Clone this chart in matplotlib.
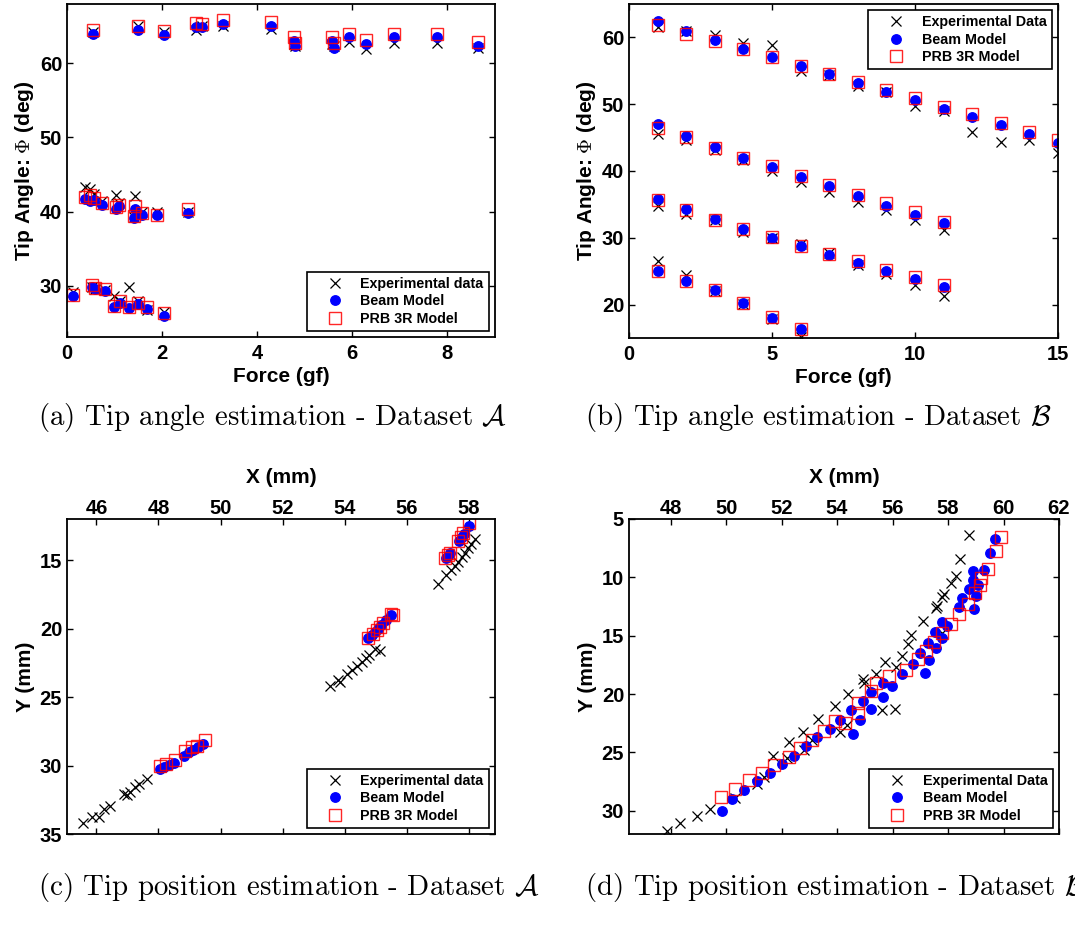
import matplotlib
matplotlib.use("Agg")
import matplotlib.pyplot as plt

plt.rcParams["font.family"] = ["Liberation Sans", "DejaVu Sans"]
plt.rcParams["font.weight"] = "bold"
plt.rcParams["mathtext.fontset"] = "cm"

# ---- (a) tip angle, dataset A ----
force_a = [0.54, 1.49, 2.05, 2.71, 2.84, 3.29, 4.29, 4.77, 4.80, 5.57, 5.62, 5.92, 6.29, 6.88, 7.77, 8.64,
           0.38, 0.48, 0.56, 0.73, 1.03, 1.10, 1.43, 1.40, 1.57, 1.89, 2.55,
           0.12, 0.52, 0.59, 0.80, 0.99, 1.12, 1.31, 1.50, 1.69, 2.03]
exp_a = [64.2, 65.0, 64.2, 64.5, 65.1, 65.0, 64.6, 62.6, 62.4, 62.6, 62.3, 62.9, 61.9, 62.7, 62.8, 62.0,
         43.3, 43.0, 42.4, 41.5, 42.2, 41.2, 42.1, 39.3, 39.9, 40.0, 40.0,
         29.2, 29.8, 29.6, 29.4, 28.6, 28.0, 29.8, 27.9, 26.8, 26.5]
beam_a = [64.0, 64.5, 63.8, 64.9, 64.9, 65.3, 65.1, 63.0, 62.4, 63.0, 62.1, 63.6, 62.6, 63.5, 63.5, 62.3,
          41.7, 41.4, 41.6, 40.9, 40.3, 40.7, 40.4, 39.1, 39.6, 39.5, 39.8,
          28.6, 29.8, 29.6, 29.3, 27.1, 27.7, 27.0, 27.5, 26.9, 25.9]
prb_a = [64.5, 65.0, 64.3, 65.4, 65.3, 65.8, 65.6, 63.5, 62.7, 63.5, 62.7, 64.0, 63.1, 63.9, 63.9, 62.9,
         42.0, 42.2, 41.8, 41.2, 40.6, 40.9, 40.7, 39.4, 39.8, 39.6, 40.3,
         28.8, 30.1, 29.7, 29.55, 27.3, 27.9, 27.1, 27.75, 27.1, 26.3]

# ---- (b) tip angle, dataset B ----
force_b = [1, 2, 3, 4, 5, 6, 7, 8, 9, 10, 11, 12, 13, 14, 15,
           1, 2, 3, 4, 5, 6, 7, 8, 9, 10, 11,
           1, 2, 3, 4, 5, 6, 7, 8, 9, 10, 11,
           1, 2, 3, 4, 5, 6]
exp_b = [61.6, 60.9, 60.3, 59.1, 58.8, 55.0, 54.4, 52.7, 51.8, 49.7, 49.0, 45.8, 44.4, 44.7, 42.7,
         45.6, 44.6, 43.1, 41.6, 40.0, 38.4, 36.9, 35.4, 34.2, 32.7, 31.1,
         34.8, 33.6, 32.6, 30.9, 30.0, 29.0, 27.7, 25.9, 24.6, 22.9, 21.3,
         26.5, 24.5, 22.1, 20.1, 17.9, 15.1]
beam_b = [62.5, 60.9, 59.6, 58.3, 57.0, 55.7, 54.5, 53.2, 51.9, 50.6, 49.3, 48.1, 46.9, 45.5, 44.2,
          47.1, 45.2, 43.6, 42.0, 40.6, 39.1, 37.7, 36.2, 34.8, 33.4, 32.2,
          35.8, 34.3, 32.8, 31.3, 30.0, 28.7, 27.5, 26.2, 25.1, 23.9, 22.7,
          25.1, 23.5, 22.2, 20.2, 18.0, 16.3]
prb_b = [61.8, 60.5, 59.4, 58.2, 57.0, 55.7, 54.5, 53.3, 52.1, 50.9, 49.6, 48.5, 47.2, 45.9, 44.6,
         46.5, 45.1, 43.5, 42.0, 40.7, 39.3, 37.9, 36.4, 35.2, 33.8, 32.4,
         35.7, 34.2, 32.7, 31.3, 30.1, 28.7, 27.6, 26.5, 25.2, 24.1, 23.0,
         25.0, 23.5, 22.2, 20.2, 18.1, 16.3]

# ---- (c) tip position, dataset A ----
exp_xc = [57.01, 57.28, 57.44, 57.55, 57.66, 57.77, 57.87, 57.98, 58.09, 58.19,
          53.53, 53.85, 53.80, 54.07, 54.23, 54.39, 54.55, 54.69, 54.79, 54.98, 55.14,
          45.57, 45.86, 46.08, 46.24, 46.45, 46.88, 46.99, 47.09, 47.25, 47.36, 47.63]
exp_yc = [16.76, 16.10, 15.73, 15.44, 15.12, 14.80, 14.51, 14.14, 13.83, 13.48,
          24.22, 23.91, 23.73, 23.30, 23.05, 22.76, 22.44, 22.12, 21.95, 21.47, 21.64,
          34.23, 33.79, 33.79, 33.18, 32.94, 32.08, 32.13, 31.96, 31.60, 31.35, 30.98]
beam_xc = [57.28, 57.34, 57.41, 57.69, 57.77, 57.84, 58.01,
           54.76, 54.87, 54.98, 55.08, 55.19, 55.35, 55.51,
           48.06, 48.19, 48.33, 48.49, 48.83, 48.97, 49.11, 49.26, 49.45]
beam_yc = [14.88, 14.71, 14.51, 13.61, 13.34, 13.10, 12.51,
           20.66, 20.49, 20.25, 20.00, 19.76, 19.39, 19.03,
           30.25, 30.08, 29.93, 29.79, 29.28, 29.03, 28.86, 28.67, 28.42]
prb_xc = [57.23, 57.34, 57.39, 57.66, 57.75, 57.82, 58.01,
          54.76, 54.92, 55.03, 55.14, 55.24, 55.51, 55.55,
          48.06, 48.25, 48.54, 48.86, 49.08, 49.24, 49.51]
prb_yc = [14.88, 14.64, 14.51, 13.58, 13.29, 13.05, 12.31,
          20.66, 20.37, 20.13, 19.88, 19.59, 18.96, 19.03,
          30.00, 29.87, 29.62, 28.91, 28.67, 28.54, 28.13]

# ---- (d) tip position, dataset B ----
exp_xd = [58.76, 58.44, 58.28, 58.10, 57.86, 57.80, 57.62, 57.56, 57.80, 57.11, 56.65, 56.56, 56.35, 56.11,
          55.73, 55.41, 54.94, 54.97, 55.63, 56.08, 54.40, 53.94, 54.37, 54.12, 53.30, 52.77, 53.10,
          52.25, 52.80, 51.69, 52.19, 51.35, 51.11, 50.33, 49.42, 48.94, 48.34, 47.88]
exp_yd = [6.39, 8.45, 9.89, 10.46, 11.46, 11.66, 12.47, 12.61, 14.81, 13.75, 14.90, 15.70, 16.76, 17.67,
          17.27, 18.27, 18.71, 19.05, 21.40, 21.28, 19.97, 21.00, 22.63, 23.29, 22.14, 23.29, 23.98,
          24.15, 24.78, 25.29, 25.49, 27.12, 27.70, 28.93, 29.87, 30.45, 31.08, 31.71]
beam_xd = [59.70, 59.51, 59.31, 58.91, 58.89, 59.09, 58.76, 58.52, 59.01, 58.38, 58.95, 57.80, 57.98,
           57.52, 57.80, 57.26, 57.56, 56.98, 57.32, 56.72, 57.16, 56.33, 55.65, 55.97, 55.21, 55.65,
           54.93, 55.23, 54.52, 54.82, 54.09, 54.58, 53.73, 53.28, 52.88, 52.46, 52.01, 51.57, 51.11,
           50.65, 50.23, 49.84]
beam_yd = [6.68, 7.88, 9.37, 9.46, 10.23, 10.69, 10.97, 11.75, 11.60, 12.55, 12.75, 13.81, 14.18,
           14.67, 15.18, 15.61, 16.04, 16.47, 17.10, 17.39, 18.19, 18.25, 19.05, 19.28, 19.85, 20.25,
           20.63, 21.28, 21.40, 22.20, 22.20, 23.40, 23.00, 23.69, 24.49, 25.29, 25.98, 26.78, 27.44,
           28.27, 29.01, 29.99]
prb_xd = [59.91, 59.73, 59.43, 59.19, 59.16, 58.97, 58.71, 58.40, 58.10, 57.80, 57.50, 57.20, 56.90,
          56.47, 55.87, 55.39, 55.21, 54.75, 54.75, 54.30, 53.94, 53.52, 53.10, 52.68, 52.25, 51.74,
          51.29, 50.81, 50.33, 49.81]
prb_yd = [6.50, 7.74, 9.25, 10.03, 10.69, 11.37, 12.32, 13.18, 14.04, 14.81, 15.56, 16.33, 17.04,
          17.90, 18.48, 19.05, 19.75, 20.80, 21.66, 22.48, 22.35, 23.20, 23.92, 24.63, 25.41, 26.07,
          26.78, 27.41, 28.15, 28.79]

captions = [r"(a) Tip angle estimation - Dataset $\mathcal{A}$",
            r"(b) Tip angle estimation - Dataset $\mathcal{B}$",
            r"(c) Tip position estimation - Dataset $\mathcal{A}$",
            r"(d) Tip position estimation - Dataset $\mathcal{B}$"]

W, H = 1075, 927
fig = plt.figure(figsize=(W / 100, H / 100), dpi=100)

TICK_FS = 14.5
LABEL_FS = 15


def box(x0, y0, x1, y1):
    return [x0 / W, 1 - y1 / H, (x1 - x0) / W, (y1 - y0) / H]


def draw(ax, x_e, y_e, x_b, y_b, x_p, y_p, exp_label, loc):
    ax.plot(x_e, y_e, "x", color="black", ms=7.5, mew=0.9, ls="none", label=exp_label)
    ax.plot(x_b, y_b, "o", color="blue", mec="blue", ms=6.8, ls="none", label="Beam Model")
    ax.plot(x_p, y_p, "s", mfc="none", mec="red", ms=8, mew=1.0, alpha=0.85, ls="none",
            label="PRB 3R Model")
    ax.tick_params(direction="in", top=True, right=True, length=4, width=1, labelsize=TICK_FS)
    ax.tick_params(axis="y", pad=3.5)
    ax.tick_params(axis="x", pad=5)
    for s in ax.spines.values():
        s.set_linewidth(1.3)
    leg = ax.legend(loc=loc, prop={"weight": "bold", "size": 10.3}, fancybox=False,
                    framealpha=1, edgecolor="black", borderaxespad=0.45, handletextpad=0.2,
                    labelspacing=0.22, borderpad=0.35, handlelength=3.2)
    leg.get_frame().set_linewidth(1.2)
    for t in ax.get_xticklabels() + ax.get_yticklabels():
        t.set_fontweight("bold")


ax_a = fig.add_axes(box(67, 4, 495, 337))
draw(ax_a, force_a, exp_a, force_a, beam_a, force_a, prb_a, "Experimental data", "lower right")
ax_a.set_xlim(0, 9)
ax_a.set_ylim(23.1, 68)
ax_a.set_xticks([0, 2, 4, 6, 8])
ax_a.set_yticks([30, 40, 50, 60])
ax_a.set_xlabel("Force (gf)", fontsize=LABEL_FS, fontweight="bold", labelpad=3)
ax_a.set_ylabel(r"Tip Angle: $\Phi$ (deg)", fontsize=LABEL_FS, fontweight="bold", labelpad=3)

ax_b = fig.add_axes(box(629, 4, 1058, 338))
draw(ax_b, force_b, exp_b, force_b, beam_b, force_b, prb_b, "Experimental Data", "upper right")
ax_b.set_xlim(0, 15)
ax_b.set_ylim(15, 65)
ax_b.set_xticks([0, 5, 10, 15])
ax_b.set_yticks([20, 30, 40, 50, 60])
ax_b.set_xlabel("Force (gf)", fontsize=LABEL_FS, fontweight="bold", labelpad=3)
ax_b.set_ylabel(r"Tip Angle: $\Phi$ (deg)", fontsize=LABEL_FS, fontweight="bold", labelpad=3)

ax_c = fig.add_axes(box(67, 519, 495, 834))
draw(ax_c, exp_xc, exp_yc, beam_xc, beam_yc, prb_xc, prb_yc, "Experimental data", "lower right")
ax_c.set_xlim(45.05, 58.85)
ax_c.set_ylim(35, 12)
ax_c.set_xticks([46, 48, 50, 52, 54, 56, 58])
ax_c.set_yticks([15, 20, 25, 30, 35])
ax_c.xaxis.tick_top()
ax_c.tick_params(axis="x", bottom=True, top=True, labelbottom=False, labeltop=True, pad=1)
ax_c.xaxis.set_label_position("top")
ax_c.set_xlabel("X (mm)", fontsize=LABEL_FS, fontweight="bold", labelpad=11)
ax_c.set_ylabel("Y (mm)", fontsize=LABEL_FS, fontweight="bold", labelpad=3)

ax_d = fig.add_axes(box(629, 519, 1059, 834))
draw(ax_d, exp_xd, exp_yd, beam_xd, beam_yd, prb_xd, prb_yd, "Experimental Data", "lower right")
ax_d.set_xlim(46.5, 62)
ax_d.set_ylim(32, 5)
ax_d.set_xticks([48, 50, 52, 54, 56, 58, 60, 62])
ax_d.set_yticks([5, 10, 15, 20, 25, 30])
ax_d.xaxis.tick_top()
ax_d.tick_params(axis="x", bottom=True, top=True, labelbottom=False, labeltop=True, pad=1)
ax_d.xaxis.set_label_position("top")
ax_d.set_xlabel("X (mm)", fontsize=LABEL_FS, fontweight="bold", labelpad=11)
ax_d.set_ylabel("Y (mm)", fontsize=LABEL_FS, fontweight="bold", labelpad=3)

# captions sit under each panel; (d) runs past the right edge as in the original
cap_pos = [(38, 417), (585, 417), (38, 887), (585, 887)]
for (cx, cy), txt in zip(cap_pos, captions):
    fig.text(cx / W, 1 - cy / H, txt, family="cmr10", fontsize=20.8, ha="left", va="center",
             fontweight="normal")

fig.savefig("out.png", dpi=100)
